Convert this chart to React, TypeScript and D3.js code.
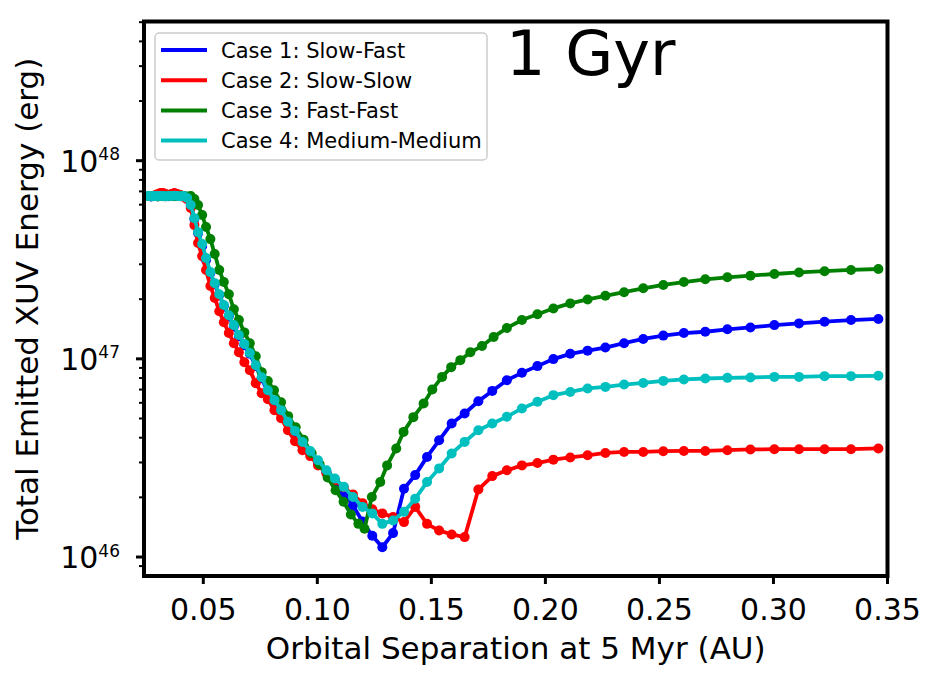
import * as d3 from 'd3';

// orbital separation at 5 Myr (AU), outermost run first
const sepGrid = [
  0.3460, 0.3340, 0.3224, 0.3112, 0.3004, 0.2899, 0.2798, 0.2701, 0.2607, 0.2517,
  0.2429, 0.2345, 0.2263, 0.2185, 0.2109, 0.2035, 0.1965, 0.1897, 0.1831, 0.1767,
  0.1706, 0.1646, 0.1589, 0.1534, 0.1481, 0.1429, 0.1380, 0.1332, 0.1285, 0.1241,
  0.1198, 0.1156, 0.1116, 0.1077, 0.1040, 0.1003, 0.0969, 0.0935, 0.0902, 0.0871,
  0.0841, 0.0812, 0.0783, 0.0756, 0.0730, 0.0704, 0.0680, 0.0656, 0.0634, 0.0612,
  0.0590, 0.0570, 0.0550, 0.0531, 0.0512, 0.0495, 0.0477, 0.0461, 0.0445, 0.0429,
  0.0414, 0.0400, 0.0386, 0.0373, 0.0360, 0.0347, 0.0335, 0.0324, 0.0312, 0.0301,
  0.0291, 0.0281, 0.0271, 0.0262, 0.0253,
];

// fast-fast runs land on slightly different separations around the minimum
const sepFastFast = [
  0.3460, 0.3340, 0.3224, 0.3112, 0.3004, 0.2899, 0.2798, 0.2701, 0.2607, 0.2517,
  0.2429, 0.2345, 0.2263, 0.2185, 0.2109, 0.2035, 0.1965, 0.1897, 0.1831,
  0.1773, 0.1722, 0.1671, 0.1627, 0.1587, 0.1547, 0.1504, 0.1466, 0.1421, 0.1378,
  0.1346, 0.1306, 0.1276, 0.1239, 0.1207, 0.1180, 0.1147, 0.1115, 0.1080, 0.1045,
  0.1010, 0.0975, 0.0940, 0.0905, 0.0872, 0.0841, 0.0810,
  0.0783, 0.0756, 0.0730, 0.0704, 0.0680, 0.0656, 0.0634, 0.0612, 0.0590, 0.0570,
  0.0550, 0.0531, 0.0512, 0.0495, 0.0477, 0.0461, 0.0445, 0.0429, 0.0414, 0.0400,
  0.0386, 0.0373, 0.0360, 0.0347, 0.0335, 0.0324, 0.0312, 0.0301, 0.0291, 0.0281,
  0.0271, 0.0262, 0.0253,
];

// total emitted XUV energy at 1 Gyr, in units of 1e46 erg
const xuvSlowFast = [
  15.9, 15.7, 15.4, 15.1, 14.8, 14.4, 14.1, 13.7, 13.5, 13.1,
  12.6, 12.0, 11.4, 11.0, 10.6, 9.97, 9.19, 8.50, 7.80, 6.89,
  6.11, 5.30, 4.72, 3.88, 3.20, 2.59, 2.21, 1.32, 1.12, 1.28,
  1.51, 1.82, 2.12, 2.41, 2.68, 3.01, 3.34, 3.75, 4.26, 4.73,
  5.38, 6.04, 6.79, 7.99, 9.19, 10.6, 11.7, 13.0, 14.6, 16.4,
  18.5, 21.0, 23.8, 27.1, 31.5, 37.1, 43.1, 50.8, 59.0, 64.8,
  66.3, 66.5, 66.3, 66.6, 66.3, 66.1, 66.3, 66.5, 66.3, 66.2,
  66.3, 66.3, 66.0, 66.3, 66.3,
];

const xuvSlowSlow = [
  3.53, 3.50, 3.50, 3.50, 3.50, 3.49, 3.46, 3.43, 3.43, 3.42,
  3.39, 3.39, 3.35, 3.26, 3.18, 3.10, 2.98, 2.90, 2.74, 2.56,
  2.19, 1.26, 1.30, 1.36, 1.47, 1.79, 1.50, 1.59, 1.66, 1.74,
  1.87, 2.07, 2.25, 2.44, 2.65, 2.90, 3.23, 3.46, 3.84, 4.36,
  5.02, 5.51, 6.26, 6.71, 7.54, 8.77, 9.62, 10.8, 12.0, 13.5,
  15.3, 17.4, 20.3, 23.3, 28.1, 33.0, 38.4, 47.3, 57.7, 64.0,
  65.6, 67.1, 67.9, 68.7, 67.9, 67.1, 67.9, 68.7, 68.7, 67.9,
  67.1, 66.3, 66.3, 66.3, 66.3,
];

const xuvFastFast = [
  28.4, 28.1, 27.7, 27.3, 26.8, 26.3, 25.8, 25.2, 24.4, 23.6,
  22.7, 21.7, 20.8, 19.95, 19.05, 17.97, 16.8, 15.7, 14.3,
  12.9, 11.6, 10.8, 9.85, 9.08, 8.11, 7.00, 5.95, 5.08, 4.28,
  3.53, 2.90, 2.39, 2.01, 1.39, 1.47, 1.64, 1.90, 2.17, 2.52,
  2.94, 3.34, 3.91, 4.52, 5.14, 6.04, 6.95,
  7.72, 8.57, 10.3, 12.0, 13.6, 15.7, 17.8, 21.2, 24.4, 28.1,
  33.8, 40.2, 46.3, 53.2, 59.7, 64.0, 66.3, 66.0, 66.3, 66.5,
  66.3, 66.1, 66.3, 66.6, 66.3, 66.2, 66.3, 66.0, 66.3, 66.3,
  66.1, 66.3, 66.3,
];

const xuvMediumMedium = [
  8.21, 8.18, 8.18, 8.11, 8.11, 8.05, 8.02, 7.96, 7.87, 7.74,
  7.56, 7.42, 7.22, 7.09, 6.81, 6.56, 6.07, 5.62, 5.10, 4.72,
  4.36, 3.81, 3.33, 2.80, 2.39, 1.97, 1.69, 1.53, 1.47, 1.66,
  1.79, 2.01, 2.26, 2.49, 2.74, 3.08, 3.43, 3.81, 4.33, 4.81,
  5.51, 6.19, 6.95, 8.08, 9.29, 10.7, 11.9, 13.2, 14.8, 16.6,
  18.7, 21.2, 24.1, 27.4, 32.3, 38.0, 43.6, 51.3, 59.7, 64.8,
  66.3, 66.1, 66.3, 66.5, 66.3, 66.3, 66.0, 66.3, 66.4, 66.3,
  66.3, 66.2, 66.3, 66.3, 66.3,
];

const caseLabels = [
  'Case 1: Slow-Fast',
  'Case 2: Slow-Slow',
  'Case 3: Fast-Fast',
  'Case 4: Medium-Medium',
];
const caseColors = ['#0000ff', '#ff0000', '#008000', '#00bfbf'];

const xTicks = [0.05, 0.1, 0.15, 0.2, 0.25, 0.3, 0.35];
const yDecades = [46, 47, 48];

const UNIT = 1e46;
const plot = { left: 144, right: 887.5, top: 21.5, bottom: 576 };
const font = 'DejaVu Sans, sans-serif';

export default function App() {
  const x = d3.scaleLinear().domain([0.024, 0.35]).range([plot.left, plot.right]);
  const y = d3.scaleLog().domain([8.02e45, 5.04e48]).range([plot.bottom, plot.top]);

  const series = [
    { sep: sepGrid, xuv: xuvSlowFast },
    { sep: sepGrid, xuv: xuvSlowSlow },
    { sep: sepFastFast, xuv: xuvFastFast },
    { sep: sepGrid, xuv: xuvMediumMedium },
  ].map((s, i) => ({
    label: caseLabels[i],
    color: caseColors[i],
    points: s.sep.map((a, j) => [a, s.xuv[j] * UNIT] as [number, number]),
  }));

  const line = d3.line<[number, number]>()
    .x(d => x(d[0]))
    .y(d => y(d[1]));

  const minorTicks = y.ticks().filter(v => {
    const e = Math.log10(v);
    return Math.abs(e - Math.round(e)) > 1e-6;
  });
  const fmt = d3.format('.2f');

  return (
    <svg width={938} height={681} style={{ position: 'absolute', left: 0, top: 0, background: '#fff' }}>
      <defs>
        <clipPath id="plot-area">
          <rect x={plot.left} y={plot.top} width={plot.right - plot.left} height={plot.bottom - plot.top} />
        </clipPath>
      </defs>

      <g clipPath="url(#plot-area)">
        {series.map(s => (
          <g key={s.label}>
            <path d={line(s.points) ?? ''} fill="none" stroke={s.color} strokeWidth={3.8} strokeLinejoin="round" />
            {s.points.map((p, j) => (
              <circle key={j} cx={x(p[0])} cy={y(p[1])} r={5} fill={s.color} />
            ))}
          </g>
        ))}
      </g>

      {/* x axis ticks */}
      {xTicks.map(t => (
        <g key={t}>
          <line x1={x(t)} x2={x(t)} y1={plot.bottom} y2={plot.bottom + 8} stroke="#000" strokeWidth={3} />
          <text x={x(t)} y={620} textAnchor="middle" fontFamily={font} fontSize={30}>{fmt(t)}</text>
        </g>
      ))}

      {/* y axis, log decades and minor ticks */}
      {minorTicks.map(v => (
        <line key={v} x1={plot.left - 5} x2={plot.left} y1={y(v)} y2={y(v)} stroke="#000" strokeWidth={2} />
      ))}
      {yDecades.map(e => {
        const ty = y(Math.pow(10, e));
        return (
          <g key={e}>
            <line x1={plot.left - 8} x2={plot.left} y1={ty} y2={ty} stroke="#000" strokeWidth={3} />
            <text x={120} y={ty + 11} textAnchor="end" fontFamily={font} fontSize={30}>
              10<tspan dy={-11.5} fontSize={17}>{e}</tspan>
            </text>
          </g>
        );
      })}

      <rect x={plot.left} y={plot.top} width={plot.right - plot.left} height={plot.bottom - plot.top}
        fill="none" stroke="#000" strokeWidth={4} />

      <text x={(plot.left + plot.right) / 2} y={659} textAnchor="middle" fontFamily={font} fontSize={31}>
        Orbital Separation at 5 Myr (AU)
      </text>
      <text transform={`translate(38,${(plot.top + plot.bottom) / 2}) rotate(-90)`} textAnchor="middle"
        fontFamily={font} fontSize={31}>
        Total Emitted XUV Energy (erg)
      </text>

      <text x={506} y={75} fontFamily={font} fontSize={62}>1 Gyr</text>

      {/* legend */}
      <g>
        <rect x={155} y={33} width={332} height={127} rx={4} fill="#fff" fillOpacity={0.8} stroke="#cccccc" strokeWidth={1.5} />
        {series.map((s, i) => {
          const ly = 50 + i * 30.2;
          return (
            <g key={s.label}>
              <line x1={161} x2={207} y1={ly} y2={ly} stroke={s.color} strokeWidth={4} />
              <text x={221} y={ly + 7.6} fontFamily={font} fontSize={21}>{s.label}</text>
            </g>
          );
        })}
      </g>
    </svg>
  );
}
